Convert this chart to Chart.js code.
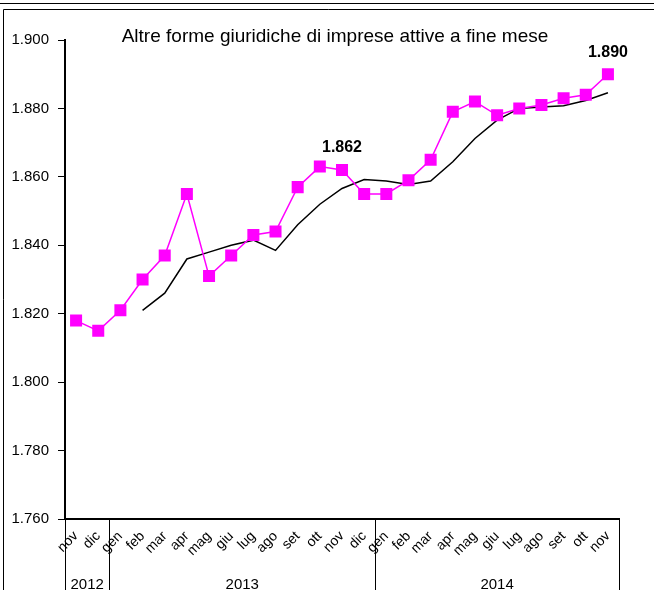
<!DOCTYPE html>
<html>
<head>
<meta charset="utf-8">
<script src="https://cdn.jsdelivr.net/npm/chart.js@4"></script>
<style>
  body { margin: 0; background: #fff; }
  #wrap { width: 654px; height: 590px; position: relative; }
</style>
</head>
<body>
<div id="wrap"><canvas id="myChart"></canvas></div>
<script>
// mesi (nov 2012 - nov 2014)
const labels = [
    'nov', 'dic',
    'gen', 'feb', 'mar', 'apr', 'mag', 'giu', 'lug', 'ago', 'set', 'ott', 'nov', 'dic',
    'gen', 'feb', 'mar', 'apr', 'mag', 'giu', 'lug', 'ago', 'set', 'ott', 'nov'
];
const years = ['2012', '2013', '2014'];
const yearSpans = [2, 12, 11];

// imprese attive a fine mese
const imprese = [1818, 1815, 1821, 1830, 1837, 1855, 1831, 1837, 1843, 1844, 1857, 1863, 1862,
    1855, 1855, 1859, 1865, 1879, 1882, 1878, 1880, 1881, 1883, 1884, 1890];
// media mobile (da feb 2013)
const media = [null, null, null, 1821, 1826, 1836, 1838, 1840, 1841.5, 1838.5, 1846, 1852, 1856.6,
    1859.2, 1858.8, 1857.8, 1858.8, 1864.4, 1871.2, 1876.6, 1880, 1880.4, 1880.8, 1882.3, 1884.6];

const yTicks = [1760, 1780, 1800, 1820, 1840, 1860, 1880, 1900];
const labelIdx = [12, 24];
const title = 'Altre forme giuridiche di imprese attive a fine mese';

const fmt = v => String(v).replace(/\B(?=(\d{3})+(?!\d))/g, '.');
const FONT = '"Liberation Sans", Arial, sans-serif';

const extras = {
    id: 'extras',
    beforeDraw(chart) {
        const ctx = chart.ctx;
        ctx.save();
        ctx.strokeStyle = '#000';
        ctx.lineWidth = 1;
        // cornice
        ctx.beginPath();
        ctx.moveTo(0, 3.5); ctx.lineTo(654, 3.5);
        ctx.moveTo(3.5, 9.5); ctx.lineTo(654, 9.5);
        ctx.moveTo(3.5, 9.5); ctx.lineTo(3.5, 590);
        ctx.stroke();
        ctx.restore();
    },
    afterDraw(chart) {
        const ctx = chart.ctx;
        const xs = chart.scales.x;
        const area = chart.chartArea;
        ctx.save();
        // titolo
        ctx.fillStyle = '#000';
        ctx.font = '19px ' + FONT;
        ctx.textAlign = 'center';
        ctx.textBaseline = 'middle';
        ctx.fillText(title, (area.left + area.right) / 2 - 7, 37);

        // etichette valori
        ctx.font = 'bold 16px ' + FONT;
        const meta = chart.getDatasetMeta(0);
        labelIdx.forEach(i => {
            const p = meta.data[i];
            ctx.fillText(fmt(imprese[i]), p.x, p.y - 22);
        });

        // anni
        const catW = (xs.right - xs.left) / labels.length;
        ctx.strokeStyle = '#000';
        ctx.lineWidth = 1;
        ctx.font = '15px ' + FONT;
        let n = 0;
        ctx.beginPath();
        ctx.moveTo(Math.round(xs.left) + 0.5, area.bottom);
        ctx.lineTo(Math.round(xs.left) + 0.5, 590);
        years.forEach((y, k) => {
            const x0 = xs.left + n * catW;
            n += yearSpans[k];
            const x1 = xs.left + n * catW;
            ctx.moveTo(Math.round(x1) + 0.5, area.bottom);
            ctx.lineTo(Math.round(x1) + 0.5, 590);
            ctx.fillText(y, (x0 + x1) / 2, 585);
        });
        ctx.stroke();
        ctx.restore();
    }
};

const data = {
    labels: labels,
    datasets: [{
        label: 'Imprese attive',
        data: imprese,
        borderColor: '#ff00ff',
        backgroundColor: '#ff00ff',
        borderWidth: 1.5,
        pointStyle: 'rect',
        pointRadius: 8.5,
        pointHoverRadius: 8.5,
        pointBorderWidth: 0,
        tension: 0
    }, {
        label: 'Media',
        data: media,
        borderColor: '#000',
        borderWidth: 1.5,
        pointRadius: 0,
        tension: 0
    }]
};

const config = {
    type: 'line',
    data: data,
    plugins: [extras],
    options: {
        responsive: true,
        maintainAspectRatio: false,
        animation: false,
        layout: {
            padding: { top: 40, right: 35, left: 0, bottom: 0 }
        },
        plugins: {
            legend: { display: false },
            tooltip: { enabled: false }
        },
        scales: {
            x: {
                offset: true,
                grid: { display: false },
                border: { display: true, color: '#000', width: 2 },
                ticks: {
                    autoSkip: false,
                    minRotation: 45,
                    maxRotation: 45,
                    padding: 1,
                    color: '#000',
                    font: { family: FONT, size: 14 }
                },
                afterFit(scale) { scale.height = 71; }
            },
            y: {
                min: 1760,
                max: 1900,
                afterBuildTicks(scale) {
                    scale.ticks = yTicks.map(v => ({ value: v }));
                },
                grid: {
                    drawOnChartArea: false,
                    drawTicks: true,
                    tickLength: 7,
                    color: '#000',
                    lineWidth: 1
                },
                border: { display: true, color: '#000', width: 2 },
                ticks: {
                    padding: 9,
                    color: '#000',
                    font: { family: FONT, size: 15 },
                    callback: v => fmt(v)
                },
                afterFit(scale) { scale.width = 65; }
            }
        }
    }
};

const myChart = new Chart(document.getElementById('myChart'), config);
</script>
</body>
</html>
